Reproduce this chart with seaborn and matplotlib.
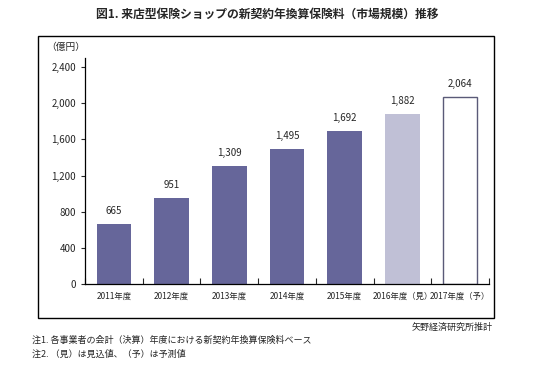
import matplotlib
matplotlib.use("Agg")
import matplotlib.pyplot as plt
import seaborn as sns
import pandas as pd
from matplotlib.patches import Rectangle
from matplotlib.ticker import MultipleLocator, FuncFormatter

sns.set_style("white")
plt.rcParams['font.family'] = ['Noto Sans CJK JP', 'DejaVu Sans']

# データ（億円）
years = ['2011年度', '2012年度', '2013年度', '2014年度', '2015年度', '2016年度（見）', '2017年度（予）']
values = [665, 951, 1309, 1495, 1692, 1882, 2064]
colors = ['#66669a', '#66669a', '#66669a', '#66669a', '#66669a', '#c0c0d6', '#ffffff']
yticks = [0, 400, 800, 1200, 1600, 2000, 2400]

df = pd.DataFrame({'year': years, 'value': values})

fig = plt.figure(figsize=(5.35, 3.65), dpi=100)
ax = fig.add_axes([0.159, 0.222, 0.755, 0.619])

sns.barplot(data=df, x='year', y='value', hue='year', palette=colors,
            legend=False, width=0.6, ax=ax, saturation=1)

# 2017年度だけ枠線
for i, p in enumerate(ax.patches):
    p.set_edgecolor('#5a5a78' if i == len(ax.patches) - 1 else 'none')
    p.set_linewidth(1.0)

for i, v in enumerate(values):
    ax.text(i, v + 90, f'{v:,}', ha='center', va='bottom', fontsize=7)

ax.set_ylim(0, 2500)
ax.set_xlim(-0.5, len(years) - 0.5)
ax.set_yticks(yticks)
ax.yaxis.set_major_formatter(FuncFormatter(lambda x, pos: f'{int(x):,}'))
ax.tick_params(axis='y', labelsize=7, length=3, direction='out', width=0.8, left=True)
ax.tick_params(axis='x', which='major', labelsize=6, length=0, pad=6)
ax.set_xticks([i + 0.5 for i in range(-1, len(years))], minor=True)
ax.tick_params(axis='x', which='minor', direction='in', length=4, width=0.8, bottom=True)
ax.set_xlabel('')
ax.set_ylabel('')
sns.despine(ax=ax)
for s in ['left', 'bottom']:
    ax.spines[s].set_color('black')
    ax.spines[s].set_linewidth(0.9)

# 外枠
fig.patches.append(Rectangle((38 / 535, 1 - 318 / 365), 456 / 535, 282 / 365,
                             transform=fig.transFigure, fill=False,
                             edgecolor='black', linewidth=1.0))

fig.text(0.5, 1 - 14 / 365, '図1. 来店型保険ショップの新契約年換算保険料（市場規模）推移',
         ha='center', va='center', fontsize=8.5, fontweight='bold')
fig.text(46 / 535, 1 - 47 / 365, '（億円）', ha='left', va='center', fontsize=7)
fig.text(493 / 535, 1 - 327 / 365, '矢野経済研究所推計', ha='right', va='center', fontsize=6.5)
fig.text(32 / 535, 1 - 340 / 365, '注1. 各事業者の会計（決算）年度における新契約年換算保険料ベース',
         ha='left', va='center', fontsize=6.5)
fig.text(32 / 535, 1 - 354 / 365, '注2. （見）は見込値、（予）は予測値',
         ha='left', va='center', fontsize=6.5)

fig.savefig('out.png', dpi=100)
